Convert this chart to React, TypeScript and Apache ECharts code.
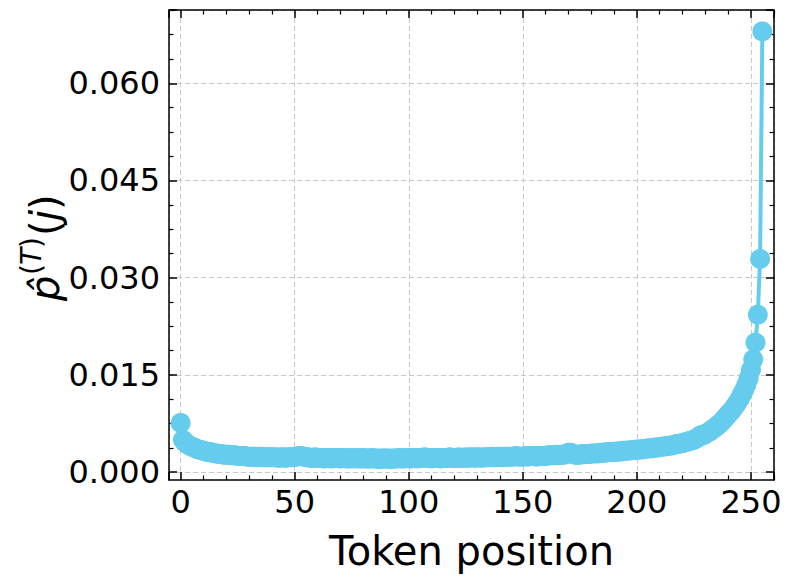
import React, { useEffect, useRef } from "react";
import * as echarts from "echarts";

// Estimated attention probability per token position (0..255)
const probs: number[] = [
  0.0076, 0.0050, 0.0046, 0.0043, 0.0041, 0.0039, 0.0038, 0.0036, 0.0035, 0.0034,
  0.0033, 0.0032, 0.0031, 0.0031, 0.0030, 0.0029, 0.0029, 0.0028, 0.0028, 0.0027,
  0.0027, 0.0027, 0.0026, 0.0026, 0.0026, 0.0025, 0.0025, 0.0025, 0.0025, 0.0024,
  0.0024, 0.0024, 0.0024, 0.0024, 0.0023, 0.0024, 0.0023, 0.0023, 0.0023, 0.0023,
  0.0023, 0.0023, 0.0023, 0.0022, 0.0023, 0.0023, 0.0022, 0.0023, 0.0023, 0.0023,
  0.0024, 0.0024, 0.0025, 0.0025, 0.0024, 0.0023, 0.0023, 0.0022, 0.0022, 0.0023,
  0.0022, 0.0022, 0.0022, 0.0021, 0.0022, 0.0022, 0.0021, 0.0022, 0.0022, 0.0022,
  0.0021, 0.0022, 0.0022, 0.0021, 0.0021, 0.0022, 0.0021, 0.0022, 0.0021, 0.0021,
  0.0022, 0.0021, 0.0021, 0.0021, 0.0022, 0.0021, 0.0021, 0.0020, 0.0021, 0.0021,
  0.0021, 0.0021, 0.0020, 0.0021, 0.0021, 0.0021, 0.0022, 0.0021, 0.0021, 0.0022,
  0.0022, 0.0021, 0.0022, 0.0022, 0.0021, 0.0022, 0.0022, 0.0023, 0.0022, 0.0022,
  0.0021, 0.0022, 0.0022, 0.0022, 0.0021, 0.0022, 0.0022, 0.0022, 0.0023, 0.0022,
  0.0022, 0.0022, 0.0023, 0.0022, 0.0022, 0.0023, 0.0022, 0.0023, 0.0023, 0.0022,
  0.0023, 0.0023, 0.0022, 0.0023, 0.0023, 0.0023, 0.0024, 0.0023, 0.0023, 0.0024,
  0.0024, 0.0023, 0.0024, 0.0024, 0.0024, 0.0024, 0.0024, 0.0025, 0.0024, 0.0024,
  0.0024, 0.0025, 0.0024, 0.0025, 0.0025, 0.0025, 0.0024, 0.0025, 0.0025, 0.0025,
  0.0025, 0.0026, 0.0026, 0.0026, 0.0026, 0.0027, 0.0026, 0.0027, 0.0027, 0.0028,
  0.0030, 0.0030, 0.0028, 0.0027, 0.0027, 0.0027, 0.0028, 0.0028, 0.0028, 0.0028,
  0.0029, 0.0029, 0.0029, 0.0029, 0.0030, 0.0030, 0.0030, 0.0031, 0.0031, 0.0031,
  0.0031, 0.0032, 0.0032, 0.0032, 0.0033, 0.0033, 0.0033, 0.0034, 0.0034, 0.0034,
  0.0035, 0.0035, 0.0035, 0.0036, 0.0036, 0.0037, 0.0037, 0.0037, 0.0038, 0.0038,
  0.0039, 0.0039, 0.0040, 0.0040, 0.0041, 0.0041, 0.0042, 0.0043, 0.0044, 0.0044,
  0.0045, 0.0046, 0.0047, 0.0048, 0.0049, 0.0050, 0.0052, 0.0054, 0.0057, 0.0057,
  0.0059, 0.0061, 0.0063, 0.0066, 0.0068, 0.0071, 0.0074, 0.0077, 0.0081, 0.0085,
  0.0089, 0.0093, 0.0097, 0.0102, 0.0107, 0.0113, 0.0120, 0.0127, 0.0135, 0.0145,
  0.0158, 0.0174, 0.0200, 0.0243, 0.0329, 0.0680,
];

const xTickLabels = ["0", "50", "100", "150", "200", "250"];
const yTickLabels = ["0.000", "0.015", "0.030", "0.045", "0.060"];
const xLabel = "Token position";

const X_MIN = -5.1;
const X_MAX = 260.1;
const Y_MIN = -0.0012;
const Y_MAX = 0.0713;

const W = 792;
const H = 583;
const GRID_LEFT = 169;
const GRID_TOP = 10;
const GRID_W = 605;
const GRID_H = 470;

const FONT = "DejaVu Sans";
const LINE_COLOR = "#66CCEE";

export default function App() {
  const ref = useRef<HTMLDivElement>(null);
  useEffect(() => {
    document.body.style.margin = "0";
    if (!ref.current) return;
    const chart = echarts.init(ref.current, undefined, { renderer: "svg" });
    const zeroPix = GRID_TOP + (GRID_H * Y_MAX) / (Y_MAX - Y_MIN);
    const grid2H = zeroPix - GRID_TOP;

    const tickStyle = { color: "#000", width: 1.5 };
    const minorStyle = { color: "#000", width: 1.2 };
    const splitDashed = {
      show: true,
      lineStyle: { color: "#c8c8c8", type: [5, 3] as any, width: 1 },
    };
    const sub = (text: string, x: number, y: number, size: number, italic: boolean) => ({
      type: "text",
      x,
      y,
      style: {
        text,
        fontFamily: FONT,
        fontStyle: italic ? "italic" : "normal",
        fontSize: size,
        fill: "#000",
        textAlign: "left",
        textVerticalAlign: "middle",
      },
    });

    const option: any = {
      animation: false,
      backgroundColor: "#fff",
      grid: [
        { left: GRID_LEFT, top: GRID_TOP, width: GRID_W, height: GRID_H },
        { left: GRID_LEFT, top: GRID_TOP, width: GRID_W, height: grid2H },
      ],
      xAxis: [
        {
          gridIndex: 0,
          type: "value",
          position: "bottom",
          min: X_MIN,
          max: X_MAX,
          axisLine: { show: true, onZero: false, lineStyle: { color: "#000", width: 1.5 } },
          axisTick: { show: true, inside: true, length: 8, lineStyle: tickStyle },
          minorTick: { show: true, splitNumber: 5, length: 4.5, lineStyle: minorStyle },
          splitLine: splitDashed,
          axisLabel: {
            show: true,
            showMinLabel: false,
            showMaxLabel: false,
            fontFamily: FONT,
            fontSize: 32,
            color: "#000",
            margin: 6,
            formatter: (v: number) => {
              const s = String(Math.round(v));
              return xTickLabels.includes(s) ? s : "";
            },
          },
          name: xLabel,
          nameLocation: "middle",
          nameGap: 51,
          nameTextStyle: { fontFamily: FONT, fontSize: 40, color: "#000" },
        },
        {
          gridIndex: 0,
          type: "value",
          position: "top",
          min: X_MIN,
          max: X_MAX,
          axisLine: { show: true, onZero: false, lineStyle: { color: "#000", width: 1.5 } },
          axisTick: { show: true, inside: true, length: 8, lineStyle: tickStyle },
          minorTick: { show: true, splitNumber: 5, length: 4.5, lineStyle: minorStyle },
          splitLine: { show: false },
          axisLabel: { show: false },
        },
        {
          gridIndex: 1,
          type: "value",
          show: false,
          min: X_MIN,
          max: X_MAX,
        },
      ],
      yAxis: [
        {
          gridIndex: 0,
          type: "value",
          position: "left",
          min: Y_MIN,
          max: Y_MAX,
          axisLine: { show: true, onZero: false, lineStyle: { color: "#000", width: 1.5 } },
          axisTick: { show: false },
          splitLine: { show: false },
          axisLabel: { show: false },
        },
        {
          gridIndex: 0,
          type: "value",
          position: "right",
          min: Y_MIN,
          max: Y_MAX,
          axisLine: { show: true, onZero: false, lineStyle: { color: "#000", width: 1.5 } },
          axisTick: { show: false },
          splitLine: { show: false },
          axisLabel: { show: false },
        },
        {
          gridIndex: 1,
          type: "value",
          position: "left",
          min: 0,
          max: Y_MAX,
          interval: 0.015,
          axisLine: { show: false, onZero: false },
          axisTick: { show: true, inside: true, length: 8, lineStyle: tickStyle },
          minorTick: { show: true, splitNumber: 4, length: 4.5, lineStyle: minorStyle },
          splitLine: splitDashed,
          axisLabel: {
            show: true,
            showMaxLabel: false,
            fontFamily: FONT,
            fontSize: 32,
            color: "#000",
            margin: 9,
            formatter: (v: number) => {
              const s = v.toFixed(3);
              return yTickLabels.includes(s) ? s : "";
            },
          },
        },
        {
          gridIndex: 1,
          type: "value",
          position: "right",
          min: 0,
          max: Y_MAX,
          interval: 0.015,
          axisLine: { show: false, onZero: false },
          axisTick: { show: true, inside: true, length: 8, lineStyle: tickStyle },
          minorTick: { show: true, splitNumber: 4, length: 4.5, lineStyle: minorStyle },
          splitLine: { show: false },
          axisLabel: { show: false },
        },
      ],
      series: [
        {
          type: "line",
          xAxisIndex: 0,
          yAxisIndex: 0,
          data: probs.map((v, i) => [i, v]),
          symbol: "circle",
          symbolSize: 20,
          showSymbol: true,
          showAllSymbol: true,
          itemStyle: { color: LINE_COLOR },
          lineStyle: { color: LINE_COLOR, width: 4 },
          z: 3,
        },
      ],
      graphic: [
        {
          type: "group",
          x: 45,
          y: 301,
          rotation: Math.PI / 2,
          children: [
            sub("p\u0302", 0, 0, 40, true),
            sub("(", 26, -14, 28, false),
            sub("T", 36, -14, 28, true),
            sub(")", 53, -14, 28, false),
            sub("(", 65, 0, 40, false),
            sub("j", 80, 0, 40, true),
            sub(")", 91, 0, 40, false),
          ],
        },
      ],
    };
    chart.setOption(option);
    return () => chart.dispose();
  }, []);
  return <div ref={ref} style={{ width: W, height: H }} />;
}
